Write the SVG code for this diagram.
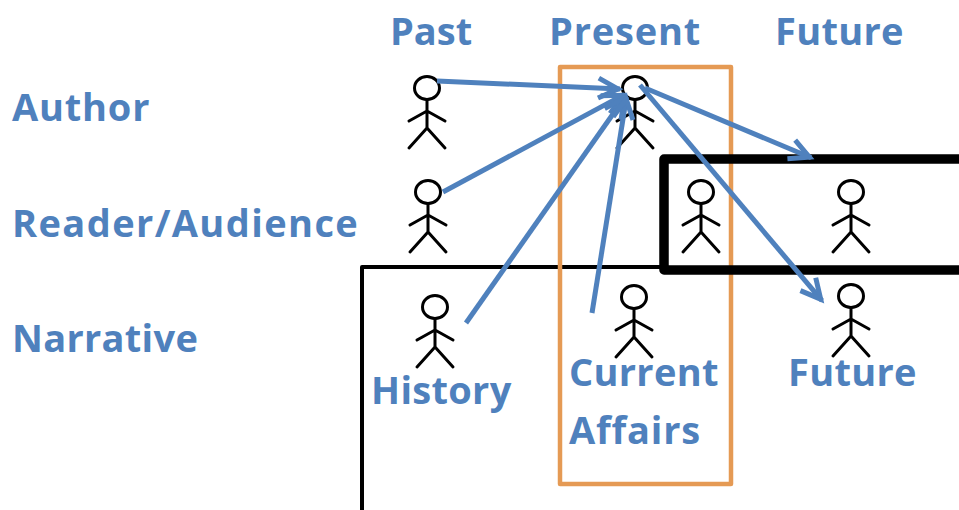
<svg xmlns="http://www.w3.org/2000/svg" width="959" height="510" viewBox="0 0 959 510">
<style>
.t{font-family:"Open Sans","Liberation Sans",sans-serif;font-weight:700;font-size:38px;fill:#4f81bd;letter-spacing:.3px}
.w{letter-spacing:.8px}
.p{fill:none;stroke:#000;stroke-width:3;stroke-linecap:round;stroke-linejoin:round}
.c{fill:none;stroke:#4f81bd;stroke-width:5;marker-end:url(#a)}
</style>
<defs>
<marker id="a" markerUnits="userSpaceOnUse" markerWidth="30" markerHeight="26" refX="24" refY="13" orient="auto" viewBox="0 0 30 26">
<path d="M2.4 3L22 13L2.4 23" fill="none" stroke="#4f81bd" stroke-width="5"/>
</marker>
<g id="person" class="p">
<ellipse cx="0" cy="0" rx="12.5" ry="11.5"/>
<path d="M0 12V40M-18 33L0 23L18 33M-18 60L0 40L18 60"/>
</g>
</defs>
<rect width="959" height="510" fill="#fff"/>
<g id="frames" fill="none" stroke-linejoin="round">
<path id="narrative-frame" d="M362 510V267H664" stroke="#000" stroke-width="4"/>
<rect id="present-frame" x="560" y="67" width="171" height="417" stroke="#e59a54" stroke-width="4.5"/>
<path id="reader-frame" d="M959 159H664V270H959" stroke="#000" stroke-width="9.5"/>
</g>
<g id="col-past"><text class="t" x="390" y="45" style="letter-spacing:0">Past</text></g>
<g id="col-present"><text class="t w" x="549" y="45">Present</text></g>
<g id="col-future"><text class="t" x="775" y="45">Future</text></g>
<g id="row-author"><text class="t w" x="12" y="121">Author</text></g>
<g id="row-reader"><text class="t" x="12" y="237" style="letter-spacing:1.4px">Reader/Audience</text></g>
<g id="row-narrative"><text class="t" x="12" y="352">Narrative</text></g>
<g id="author-past"><use href="#person" x="427" y="88"/></g>
<g id="author-present"><use href="#person" x="635" y="88"/></g>
<g id="reader-past"><use href="#person" x="428" y="192"/></g>
<g id="reader-present"><use href="#person" x="701" y="192"/></g>
<g id="reader-future"><use href="#person" x="851" y="192"/></g>
<g id="narrative-history"><use href="#person" x="435" y="307"/><text class="t" x="371" y="404">History</text></g>
<g id="narrative-current"><use href="#person" x="634" y="297"/><text class="t" x="569" y="386">Current</text><text class="t w" x="569" y="444">Affairs</text></g>
<g id="narrative-future"><use href="#person" x="851" y="296"/><text class="t" x="788" y="386">Future</text></g>
<g id="connectors">
<path class="c" d="M437 81L620 89"/>
<path class="c" d="M443 192L624.4 94.4"/>
<path class="c" d="M466 323L625.3 96.5"/>
<path class="c" d="M592 313L626.5 97"/>
<path class="c" d="M645 88L811.2 157.8"/>
<path class="c" d="M640 85L822 300.7"/>
</g>
</svg>
